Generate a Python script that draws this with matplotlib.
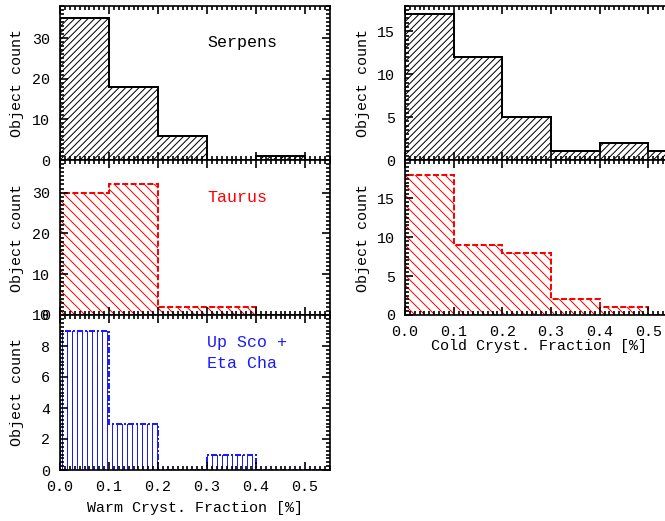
import matplotlib
matplotlib.use("Agg")
import matplotlib.pyplot as plt
from matplotlib.ticker import MultipleLocator, NullFormatter

plt.rcParams['font.family'] = ['Liberation Mono', 'DejaVu Sans Mono']
plt.rcParams['hatch.linewidth'] = 0.6

# ---- data ----
edges = [0.0, 0.1, 0.2, 0.3, 0.4, 0.5, 0.6]
warm_serpens = [35, 18, 6, 0, 1, 0]
warm_taurus = [30, 32, 2, 2, 0, 0]
warm_upsco = [9, 3, 0, 1, 0, 0]
cold_serpens = [17, 12, 5, 1, 2, 1]
cold_taurus = [18, 9, 8, 2, 1, 0]

xticks = [0.0, 0.1, 0.2, 0.3, 0.4, 0.5]
xticklabels = ["0.0", "0.1", "0.2", "0.3", "0.4", "0.5"]
ylabel = "Object count"
warm_xlabel = "Warm Cryst. Fraction [%]"
cold_xlabel = "Cold Cryst. Fraction [%]"

DPI = 120
fig = plt.figure(figsize=(665 / DPI, 521 / DPI), dpi=DPI)

W, H = 665.0, 521.0


def add_ax(x0, x1, ytop, ybot):
    return fig.add_axes([x0 / W, 1 - ybot / H, (x1 - x0) / W, (ybot - ytop) / H])


styles = {
    'serpens': dict(color='black', hatch='//////', ls='-'),
    'taurus': dict(color='red', hatch='\\\\\\\\', ls=(0, (3, 1.2))),
    'upsco': dict(color='#1a1aff', hatch='||||', ls=(0, (3, 1, 1, 1))),
}


def draw_hist(ax, values, key):
    st = styles[key]
    ax.stairs(values, edges, fill=True, facecolor='none', edgecolor=st['color'],
              linewidth=0, hatch=st['hatch'], baseline=0)
    ax.stairs(values, edges, fill=False, color=st['color'], linewidth=1.2,
              linestyle=st['ls'], baseline=0)


def style_ax(ax, ylim, ymaj, ymin, show_x):
    ax.set_xlim(0, 0.55)
    ax.set_ylim(0, ylim)
    ax.set_xticks(xticks)
    ax.xaxis.set_minor_locator(MultipleLocator(0.01))
    ax.yaxis.set_major_locator(MultipleLocator(ymaj))
    ax.yaxis.set_minor_locator(MultipleLocator(ymin))
    ax.tick_params(which='both', direction='in', top=True, right=True,
                   labelsize=9, width=1.0, colors='black')
    ax.tick_params(which='major', length=5, pad=6)
    ax.tick_params(which='minor', length=2.2)
    if show_x:
        ax.set_xticklabels(xticklabels)
    else:
        ax.xaxis.set_major_formatter(NullFormatter())
    for s in ax.spines.values():
        s.set_linewidth(1.0)
    ax.set_ylabel(ylabel, fontsize=9)
    ax.yaxis.set_label_coords(-0.132, 0.5)


# left column
ax1 = add_ax(60, 329.5, 5.5, 160)
ax2 = add_ax(60, 329.5, 160, 315)
ax3 = add_ax(60, 329.5, 315, 470)
# right column (extends past figure edge, as in reference)
ax4 = add_ax(405, 672.7, 5.5, 160)
ax5 = add_ax(405, 672.7, 160, 315)

draw_hist(ax1, warm_serpens, 'serpens')
draw_hist(ax2, warm_taurus, 'taurus')
draw_hist(ax3, warm_upsco, 'upsco')
draw_hist(ax4, cold_serpens, 'serpens')
draw_hist(ax5, cold_taurus, 'taurus')

style_ax(ax1, 38, 10, 1, False)
style_ax(ax2, 38, 10, 1, False)
style_ax(ax3, 10, 2, 0.25, True)
style_ax(ax4, 18, 5, 0.5, False)
style_ax(ax5, 19.9, 5, 0.5, True)

ax3.set_xlabel(warm_xlabel, fontsize=9, labelpad=4)
ax5.set_xlabel(cold_xlabel, fontsize=9, labelpad=0)

tx = (207 - 60) / 269.5
ax1.text(tx, 1 - (42 - 5.5) / 154.5, "Serpens", transform=ax1.transAxes,
         fontsize=10, color='black', va='center', ha='left')
ax2.text(tx, 1 - (197 - 160) / 155, "Taurus", transform=ax2.transAxes,
         fontsize=10, color='red', va='center', ha='left')
ax3.text(tx, 1 - (342 - 315) / 155, "Up Sco +", transform=ax3.transAxes,
         fontsize=10, color='#1a1aff', va='center', ha='left')
ax3.text(tx, 1 - (364 - 315) / 155, "Eta Cha", transform=ax3.transAxes,
         fontsize=10, color='#1a1aff', va='center', ha='left')

fig.savefig("out.png", dpi=DPI)
